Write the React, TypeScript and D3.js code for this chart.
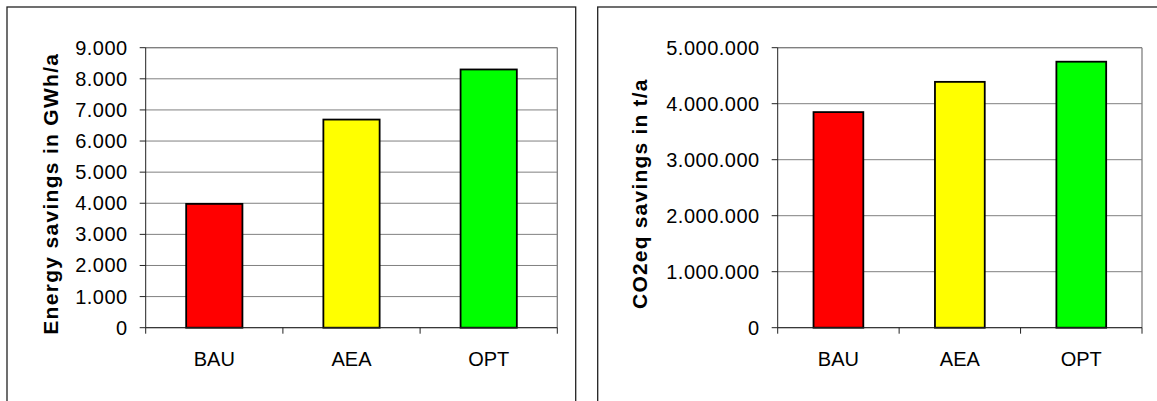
import React from "react";
import * as d3 from "d3";

const categories = ["BAU", "AEA", "OPT"];
const energyValues = [3980, 6690, 8300];
const co2Values = [3850000, 4390000, 4750000];
const energyTicks = [0, 1000, 2000, 3000, 4000, 5000, 6000, 7000, 8000, 9000];
const co2Ticks = [0, 1000000, 2000000, 3000000, 4000000, 5000000];
const barColors = ["#ff0000", "#ffff00", "#00ff00"];
const energyTitle = "Energy savings in GWh/a";
const co2Title = "CO2eq savings in t/a";

const locale = d3.formatLocale({ decimal: ",", thousands: ".", grouping: [3], currency: ["", ""] });
const fmt = locale.format(",d");

const FONT = "'Liberation Sans', Arial, sans-serif";

type PanelProps = {
  frame: { x: number; y: number; w: number; h: number };
  plot: { x0: number; x1: number; y0: number; y1: number };
  values: number[];
  ticks: number[];
  max: number;
  title: string;
  titleX: number;
  titleLS: number;
};

function Panel({ frame, plot, values, ticks, max, title, titleX, titleLS }: PanelProps) {
  const x = d3.scaleBand<string>().domain(categories).range([plot.x0, plot.x1]).paddingInner(0.59).paddingOuter(0.295);
  const y = d3.scaleLinear().domain([0, max]).range([plot.y1, plot.y0]);
  const step = x.step();
  const tickXs = d3.range(categories.length + 1).map((i) => plot.x0 + i * step);
  const titleY = (plot.y0 + plot.y1) / 2 + 6;
  return (
    <g>
      <rect x={frame.x} y={frame.y} width={frame.w} height={frame.h} fill="#fff" stroke="#222" strokeWidth={1.3} />
      {ticks.map((t) => (
        <line key={"g" + t} x1={plot.x0} x2={plot.x1} y1={y(t)} y2={y(t)} stroke="#808080" strokeWidth={1} />
      ))}
      <line x1={plot.x1} x2={plot.x1} y1={plot.y0} y2={plot.y1} stroke="#808080" strokeWidth={1.3} />
      <line x1={plot.x0} x2={plot.x1} y1={plot.y0} y2={plot.y0} stroke="#808080" strokeWidth={1.3} />
      {values.map((v, i) => (
        <rect
          key={categories[i]}
          x={x(categories[i])}
          y={y(v)}
          width={x.bandwidth()}
          height={y(0) - y(v)}
          fill={barColors[i]}
          stroke="#000"
          strokeWidth={1.8}
        />
      ))}
      <line x1={plot.x0} x2={plot.x0} y1={plot.y0} y2={plot.y1} stroke="#222" strokeWidth={1} />
      <line x1={plot.x0} x2={plot.x1} y1={plot.y1} y2={plot.y1} stroke="#222" strokeWidth={1} />
      {ticks.map((t) => (
        <g key={"t" + t}>
          <line x1={plot.x0 - 6} x2={plot.x0} y1={y(t)} y2={y(t)} stroke="#222" />
          <text
            x={plot.x0 - 18}
            y={y(t)}
            dy="0.35em"
            textAnchor="end"
            fontFamily={FONT}
            fontSize={20}
            style={{ letterSpacing: "0.5px" }}
            fill="#000"
          >
            {fmt(t)}
          </text>
        </g>
      ))}
      {tickXs.map((tx, i) => (
        <line key={"xt" + i} x1={tx} x2={tx} y1={plot.y1} y2={plot.y1 + 6} stroke="#222" />
      ))}
      {categories.map((c) => (
        <text
          key={"c" + c}
          x={(x(c) as number) + x.bandwidth() / 2}
          y={366}
          textAnchor="middle"
          fontFamily={FONT}
          fontSize={20}
          fill="#000"
        >
          {c}
        </text>
      ))}
      <text
        transform={`translate(${titleX},${titleY}) rotate(-90)`}
        textAnchor="middle"
        dy="0.35em"
        fontFamily={FONT}
        fontSize={21}
        fontWeight="bold"
        style={{ letterSpacing: titleLS + "px" }}
        fill="#000"
      >
        {title}
      </text>
    </g>
  );
}

export default function App() {
  return (
    <svg width={1157} height={401} style={{ position: "absolute", left: 0, top: 0, background: "#fff" }}>
      <rect x={0} y={0} width={1157} height={401} fill="#fff" />
      <Panel
        frame={{ x: 7, y: 7, w: 568.7, h: 420 }}
        plot={{ x0: 145.7, x1: 557.3, y0: 47.7, y1: 327.7 }}
        values={energyValues}
        ticks={energyTicks}
        max={9000}
        title={energyTitle}
        titleX={51}
        titleLS={1.3}
      />
      <Panel
        frame={{ x: 597.7, y: 7, w: 580, h: 420 }}
        plot={{ x0: 777.7, x1: 1142, y0: 47.7, y1: 327.7 }}
        values={co2Values}
        ticks={co2Ticks}
        max={5000000}
        title={co2Title}
        titleX={640}
        titleLS={1.2}
      />
    </svg>
  );
}
